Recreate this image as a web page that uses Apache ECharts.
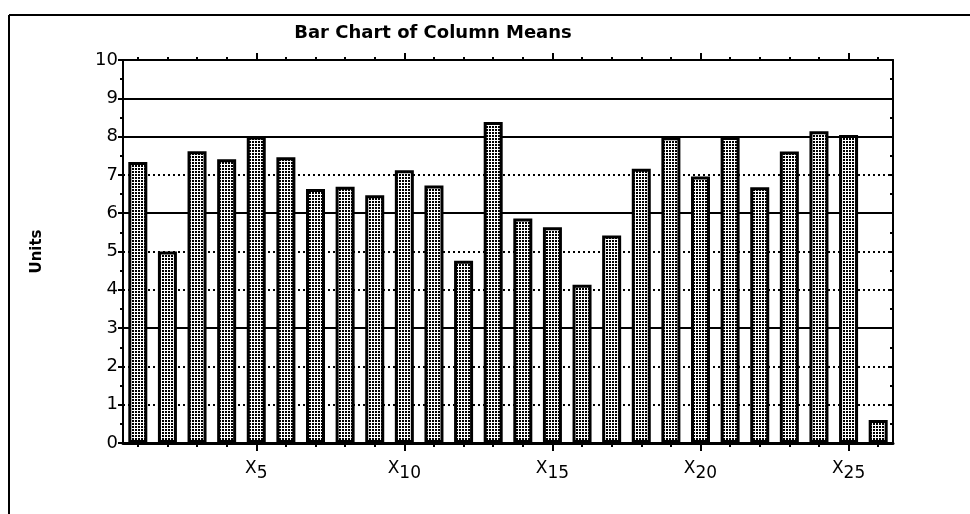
<!DOCTYPE html>
<html>
<head>
<meta charset="utf-8">
<script src="https://cdn.jsdelivr.net/npm/echarts@6/dist/echarts.min.js"></script>
<style>
* {
  padding: 0;
  margin: 0;
}
body {
  background: #fff;
}
</style>
</head>
<body>
<div id="chart" style="width: 970px; height: 514px"></div>
<script>
// column names X1..X26 and their means
const columns = ["X1", "X2", "X3", "X4", "X5", "X6", "X7", "X8", "X9", "X10",
  "X11", "X12", "X13", "X14", "X15", "X16", "X17", "X18", "X19", "X20",
  "X21", "X22", "X23", "X24", "X25", "X26"];
const means = [7.34, 5.0, 7.62, 7.41, 8.0, 7.46, 6.63, 6.69, 6.47, 7.12,
  6.72, 4.76, 8.38, 5.86, 5.63, 4.13, 5.42, 7.16, 7.98, 6.96,
  7.99, 6.68, 7.61, 8.14, 8.04, 0.6];
const solidLines = [3, 6, 8, 9];

// stipple fill for the bars
function makePattern() {
  const c = document.createElement("canvas");
  c.width = 3;
  c.height = 3;
  const ctx = c.getContext("2d");
  ctx.fillStyle = "#fff";
  ctx.fillRect(0, 0, 3, 3);
  ctx.fillStyle = "#000";
  ctx.fillRect(0, 0, 2, 2);
  return c;
}

const chart = echarts.init(document.getElementById("chart"));
const font = "DejaVu Sans";

function xLabel(value) {
  const n = parseInt(value.slice(1), 10);
  if (n % 5 !== 0) return "";
  return "{x|X}{s|" + n + "}";
}

chart.setOption({
  animation: false,
  title: {
    text: "Bar Chart of Column Means",
    left: 428,
    textAlign: "center",
    top: 19,
    textStyle: { fontFamily: font, fontSize: 18, fontWeight: "bold", color: "#000" },
  },
  grid: { left: 123, right: 77, top: 60, bottom: 71 },
  graphic: [
    { type: "line", shape: { x1: 9, y1: 15, x2: 970, y2: 15 }, style: { stroke: "#000", lineWidth: 2 } },
    { type: "line", shape: { x1: 9, y1: 15, x2: 9, y2: 514 }, style: { stroke: "#000", lineWidth: 2 } },
  ],
  xAxis: [
    {
      type: "category",
      data: columns,
      position: "bottom",
      axisLine: { show: true, lineStyle: { color: "#000", width: 3 } },
      axisTick: { show: true, alignWithLabel: true, interval: 0, length: 4, lineStyle: { color: "#000", width: 2 } },
      axisLabel: {
        interval: 0,
        margin: 12,
        formatter: xLabel,
        rich: {
          x: { fontFamily: font, fontSize: 17, color: "#000" },
          s: { fontFamily: font, fontSize: 17, color: "#000", padding: [10, 0, 0, 0] },
        },
      },
      splitLine: { show: false },
    },
    {
      type: "category",
      data: columns,
      position: "bottom",
      axisLine: { show: false },
      axisTick: {
        show: true,
        alignWithLabel: true,
        interval: function (i) { return (i + 1) % 5 === 0; },
        length: 8,
        lineStyle: { color: "#000", width: 2 },
      },
      axisLabel: { show: false },
    },
    {
      type: "category",
      data: columns,
      position: "top",
      axisLine: { show: true, lineStyle: { color: "#000", width: 2 } },
      axisTick: { show: true, alignWithLabel: true, interval: 0, length: 3, lineStyle: { color: "#000", width: 2 } },
      axisLabel: { show: false },
    },
    {
      type: "category",
      data: columns,
      position: "top",
      axisLine: { show: false },
      axisTick: {
        show: true,
        alignWithLabel: true,
        interval: function (i) { return (i + 1) % 5 === 0; },
        length: 7,
        lineStyle: { color: "#000", width: 2 },
      },
      axisLabel: { show: false },
    },
  ],
  yAxis: [
    {
      type: "value",
      min: 0,
      max: 10,
      interval: 1,
      name: "Units",
      nameLocation: "middle",
      nameGap: 78,
      nameRotate: 90,
      nameTextStyle: { fontFamily: font, fontSize: 15, fontWeight: "bold", color: "#000" },
      axisLine: { show: true, lineStyle: { color: "#000", width: 2 } },
      axisTick: { show: true, length: 5, lineStyle: { color: "#000", width: 2 } },
      minorTick: { show: true, splitNumber: 2, length: 3, lineStyle: { color: "#000", width: 2 } },
      axisLabel: { fontFamily: font, fontSize: 18, color: "#000", margin: 5 },
      splitLine: { show: true, lineStyle: { color: "#000", width: 2, type: [2, 3] } },
    },
    {
      type: "value",
      min: 0,
      max: 10,
      interval: 1,
      position: "right",
      axisLine: { show: true, lineStyle: { color: "#000", width: 2 } },
      axisTick: { show: true, inside: true, length: 4, lineStyle: { color: "#000", width: 2 } },
      minorTick: { show: true, splitNumber: 2, length: 3, lineStyle: { color: "#000", width: 2 } },
      axisLabel: { show: false },
      splitLine: { show: false },
    },
  ],
  series: [
    {
      type: "bar",
      data: means,
      barWidth: 19,
      z: 3,
      itemStyle: {
        color: { image: makePattern(), repeat: "repeat" },
        borderColor: "#000",
        borderWidth: 3,
      },
      markLine: {
        z: 1,
        silent: true,
        symbol: "none",
        label: { show: false },
        lineStyle: { color: "#000", width: 2, type: "solid" },
        data: solidLines.map(function (v) { return { yAxis: v }; }),
      },
    },
  ],
});
</script>
</body>
</html>
